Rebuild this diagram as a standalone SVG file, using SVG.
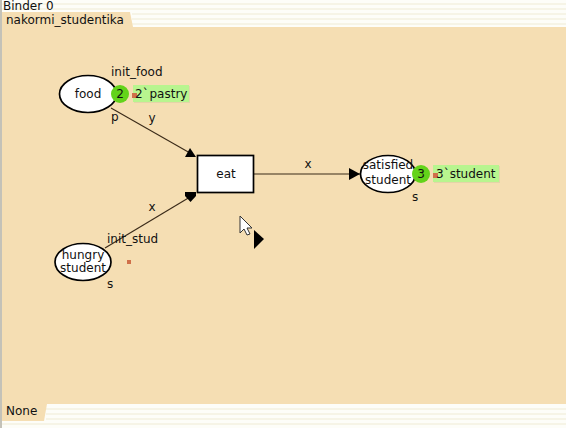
<svg xmlns="http://www.w3.org/2000/svg" width="566" height="428" viewBox="0 0 566 428">
<style>
text{font-family:"DejaVu Sans",sans-serif;font-size:12px;fill:#111}
.c{text-anchor:middle}
.n{fill:#fff;stroke:#000;stroke-width:1.700}
.a{fill:none;stroke:#3a2a18;stroke-width:1.100}
.t{fill:#63d31a}
.b{fill:#b8f58f}
.s{fill:#e4d4a8}
.r{fill:#d0704a}
.st{fill:#f6f4e6}
</style>
<defs>
<marker id="ah" markerUnits="userSpaceOnUse" markerWidth="12" markerHeight="12" refX="11" refY="6" orient="auto"><path d="M0,0L11,6L0,12Z" fill="#000"/></marker>
</defs>
<rect width="566" height="428" fill="#fdfdf8"/>
<rect class="st" y="3" width="566" height="2"/><rect class="st" y="8" width="566" height="2"/>
<rect class="st" x="132" y="13" width="434" height="2"/><rect class="st" x="132" y="18" width="434" height="2"/><rect class="st" x="132" y="23" width="434" height="2"/>
<rect class="st" x="46" y="408" width="520" height="2"/><rect class="st" x="46" y="413" width="520" height="2"/><rect class="st" x="46" y="418" width="520" height="2"/><rect class="st" y="423" width="566" height="2"/>
<rect x="0" y="27" width="566" height="377" fill="#f5deb3"/>
<path d="M2,12H130L133,27H2Z" fill="#f5deb3"/>
<rect x="0" y="0" width="2" height="428" fill="#c4c2b8"/>
<path d="M2,404H47L44,421H2Z" fill="#f5deb3"/>
<text x="3" y="10">Binder 0</text>
<text x="6" y="24">nakormi_studentika</text>
<text x="6" y="415">None</text>
<g id="connectors">
<path class="a" d="M111,108L190,153"/>
<path d="M190,148L196,157H185Z" fill="#000"/>
<path class="a" d="M105,248L190,197"/>
<path d="M185,192H196V196L190.500,202L185,196Z" fill="#000"/>
<path class="a" d="M254,174H360" marker-end="url(#ah)"/>
<text class="c" x="152" y="122">y</text>
<text class="c" x="152" y="211">x</text>
<text class="c" x="308" y="168">x</text>
</g>
<g id="food">
<ellipse class="n" cx="88" cy="94" rx="28.500" ry="18.500"/>
<text class="c" x="88" y="98">food</text>
<text x="111" y="76">init_food</text>
<text x="111" y="121">p</text>
<circle class="t" cx="120" cy="94" r="9"/>
<text class="c" x="120" y="98">2</text>
<rect class="s" x="134" y="86" width="56" height="17"/>
<rect class="b" x="133" y="85" width="56" height="17"/>
<rect class="r" x="132" y="93" width="5" height="5"/>
<text x="135" y="98" word-spacing="-3">2` pastry</text>
</g>
<g id="hungry_student">
<ellipse class="n" cx="83" cy="262" rx="28" ry="18.500"/>
<text class="c" x="83" y="259">hungry</text>
<text class="c" x="83" y="272">student</text>
<text x="107" y="243">init_stud</text>
<text x="107" y="288">s</text>
<rect class="r" x="127" y="260" width="4" height="4"/>
</g>
<g id="eat">
<rect class="n" x="197.500" y="155.500" width="56" height="37"/>
<text class="c" x="226" y="178">eat</text>
</g>
<g id="satisfied_student">
<ellipse class="n" cx="388" cy="174" rx="27.500" ry="18.500"/>
<text class="c" x="388" y="169">satisfied</text>
<text class="c" x="388" y="184">student</text>
<text x="412" y="201">s</text>
<circle class="t" cx="421" cy="174" r="9"/>
<text class="c" x="421" y="178">3</text>
<rect class="s" x="434" y="166" width="66" height="17"/>
<rect class="b" x="433" y="165" width="66" height="17"/>
<rect class="r" x="433" y="173" width="5" height="5"/>
<text x="436" y="178">3`student</text>
</g>
<path d="M240,216V233L244,229L247,235L250,234L247,228L252,228Z" fill="#fff" stroke="#333"/>
<path d="M254,230L264,239L254,249Z" fill="#000"/>
</svg>
